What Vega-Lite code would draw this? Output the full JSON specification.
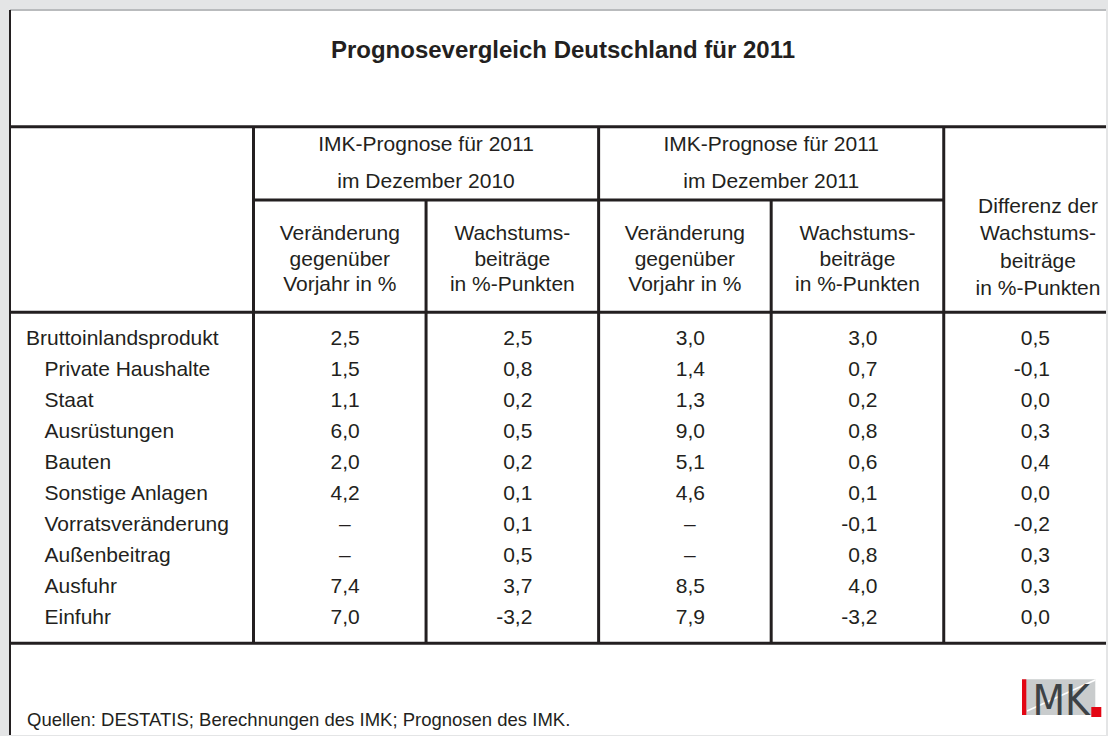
{
  "$schema": "https://vega.github.io/schema/vega-lite/v6.json",
  "width": 1108,
  "height": 736,
  "autosize": {"type": "fit", "contains": "padding"},
  "padding": {"left": 8, "top": 9, "right": 0, "bottom": 0},
  "background": "#e4e5e6",
  "config": {
    "view": {"fill": "#ffffff", "stroke": null},
    "text": {"font": "Liberation Sans", "fill": "#231f20", "fontSize": 21},
    "rule": {"stroke": "#231f20", "strokeWidth": 3},
    "locale": {"number": {"decimal": ",", "thousands": ".", "grouping": [3], "currency": ["", " €"], "minus": "-"}}
  },
  "datasets": {
    "table": [
      {"item": "Bruttoinlandsprodukt", "level": 0, "v2010": 2.5, "w2010": 2.5, "v2011": 3.0, "w2011": 3.0, "diff": 0.5},
      {"item": "Private Haushalte", "level": 1, "v2010": 1.5, "w2010": 0.8, "v2011": 1.4, "w2011": 0.7, "diff": -0.1},
      {"item": "Staat", "level": 1, "v2010": 1.1, "w2010": 0.2, "v2011": 1.3, "w2011": 0.2, "diff": 0.0},
      {"item": "Ausrüstungen", "level": 1, "v2010": 6.0, "w2010": 0.5, "v2011": 9.0, "w2011": 0.8, "diff": 0.3},
      {"item": "Bauten", "level": 1, "v2010": 2.0, "w2010": 0.2, "v2011": 5.1, "w2011": 0.6, "diff": 0.4},
      {"item": "Sonstige Anlagen", "level": 1, "v2010": 4.2, "w2010": 0.1, "v2011": 4.6, "w2011": 0.1, "diff": 0.0},
      {"item": "Vorratsveränderung", "level": 1, "v2010": null, "w2010": 0.1, "v2011": null, "w2011": -0.1, "diff": -0.2},
      {"item": "Außenbeitrag", "level": 1, "v2010": null, "w2010": 0.5, "v2011": null, "w2011": 0.8, "diff": 0.3},
      {"item": "Ausfuhr", "level": 1, "v2010": 7.4, "w2010": 3.7, "v2011": 8.5, "w2011": 4.0, "diff": 0.3},
      {"item": "Einfuhr", "level": 1, "v2010": 7.0, "w2010": -3.2, "v2011": 7.9, "w2011": -3.2, "diff": 0.0}
    ],
    "subheaders": [
      {"col": "v2010", "label": "Veränderung\ngegenüber\nVorjahr in %"},
      {"col": "w2010", "label": "Wachstums-\nbeiträge\nin %-Punkten"},
      {"col": "v2011", "label": "Veränderung\ngegenüber\nVorjahr in %"},
      {"col": "w2011", "label": "Wachstums-\nbeiträge\nin %-Punkten"}
    ],
    "topheaders": [
      {"col": "w2010", "label": "IMK-Prognose für 2011\nim Dezember 2010"},
      {"col": "w2011", "label": "IMK-Prognose für 2011\nim Dezember 2011"}
    ],
    "diffheader": [
      {"col": "diff", "label": "Differenz der\nWachstums-\nbeiträge\nin %-Punkten"}
    ],
    "fullcols": [{"col": "v2010"}, {"col": "v2011"}, {"col": "diff"}],
    "subcols": [{"col": "w2010"}, {"col": "w2011"}]
  },
  "resolve": {"scale": {"x": "independent"}},
  "layer": [
    {
      "data": {"values": [{}]},
      "mark": {"type": "rule", "stroke": "#b9bbbd", "strokeWidth": 2},
      "encoding": {"x": {"value": 0}, "x2": {"value": "width"}, "y": {"value": 0}}
    },
    {
      "data": {"values": [{}]},
      "mark": {"type": "rule", "strokeWidth": 2},
      "encoding": {"x": {"value": 0}, "y": {"value": 0}, "y2": {"value": "height"}}
    },
    {
      "data": {"values": [{}]},
      "mark": {"type": "rule"},
      "encoding": {"x": {"value": 0}, "x2": {"value": "width"}, "y": {"value": 116.7}}
    },
    {
      "data": {"values": [{}]},
      "mark": {"type": "rule"},
      "encoding": {"x": {"value": 243.5}, "x2": {"value": 933.7}, "y": {"value": 190}}
    },
    {
      "data": {"values": [{}]},
      "mark": {"type": "rule"},
      "encoding": {"x": {"value": 0}, "x2": {"value": "width"}, "y": {"value": 302.3}}
    },
    {
      "data": {"values": [{}]},
      "mark": {"type": "rule"},
      "encoding": {"x": {"value": 0}, "x2": {"value": "width"}, "y": {"value": 633.3}}
    },
    {
      "data": {"name": "fullcols"},
      "mark": {"type": "rule"},
      "encoding": {
        "x": {"field": "col", "type": "nominal", "bandPosition": 0, "axis": null,
              "scale": {"type": "band", "domain": ["v2010", "w2010", "v2011", "w2011", "diff"], "range": [243.5, 1106.3], "paddingInner": 0, "paddingOuter": 0}},
        "y": {"value": 116.7},
        "y2": {"value": 633.3}
      }
    },
    {
      "data": {"name": "subcols"},
      "mark": {"type": "rule"},
      "encoding": {
        "x": {"field": "col", "type": "nominal", "bandPosition": 0, "axis": null,
              "scale": {"type": "band", "domain": ["v2010", "w2010", "v2011", "w2011", "diff"], "range": [243.5, 1106.3], "paddingInner": 0, "paddingOuter": 0}},
        "y": {"value": 190},
        "y2": {"value": 633.3}
      }
    },
    {
      "data": {"values": [{}]},
      "mark": {"type": "text", "fontSize": 24, "fontWeight": "bold", "align": "center", "baseline": "alphabetic"},
      "encoding": {"x": {"value": 553}, "y": {"value": 47.7}, "text": {"value": "Prognosevergleich Deutschland für 2011"}}
    },
    {
      "data": {"name": "topheaders"},
      "mark": {"type": "text", "align": "center", "baseline": "alphabetic", "lineBreak": "\n", "lineHeight": 37.3},
      "encoding": {
        "x": {"field": "col", "type": "nominal", "bandPosition": 0, "axis": null,
              "scale": {"type": "band", "domain": ["v2010", "w2010", "v2011", "w2011", "diff"], "range": [243.5, 1106.3], "paddingInner": 0, "paddingOuter": 0}},
        "y": {"value": 141},
        "text": {"field": "label", "type": "nominal"}
      }
    },
    {
      "data": {"name": "subheaders"},
      "mark": {"type": "text", "align": "center", "baseline": "alphabetic", "lineBreak": "\n", "lineHeight": 25.5},
      "encoding": {
        "x": {"field": "col", "type": "nominal", "axis": null,
              "scale": {"type": "band", "domain": ["v2010", "w2010", "v2011", "w2011", "diff"], "range": [243.5, 1106.3], "paddingInner": 0, "paddingOuter": 0}},
        "y": {"value": 230},
        "text": {"field": "label", "type": "nominal"}
      }
    },
    {
      "data": {"name": "diffheader"},
      "mark": {"type": "text", "align": "center", "baseline": "alphabetic", "lineBreak": "\n", "lineHeight": 27.3, "dx": 8},
      "encoding": {
        "x": {"field": "col", "type": "nominal", "axis": null,
              "scale": {"type": "band", "domain": ["v2010", "w2010", "v2011", "w2011", "diff"], "range": [243.5, 1106.3], "paddingInner": 0, "paddingOuter": 0}},
        "y": {"value": 203},
        "text": {"field": "label", "type": "nominal"}
      }
    },
    {
      "data": {"name": "table"},
      "mark": {"type": "text", "align": "left", "baseline": "middle", "dy": 1},
      "encoding": {
        "x": {"field": "level", "type": "quantitative", "axis": null, "scale": {"domain": [0, 1], "range": [16, 34.5]}},
        "y": {"field": "item", "type": "nominal", "axis": null,
              "scale": {"type": "band", "domain": ["Bruttoinlandsprodukt", "Private Haushalte", "Staat", "Ausrüstungen", "Bauten", "Sonstige Anlagen", "Vorratsveränderung", "Außenbeitrag", "Ausfuhr", "Einfuhr"], "range": [302.3, 633.3], "paddingInner": 0, "paddingOuter": 0.34}},
        "text": {"field": "item", "type": "nominal"}
      }
    },
    {
      "data": {"name": "table"},
      "transform": [
        {"fold": ["v2010", "w2010", "v2011", "w2011", "diff"], "as": ["col", "value"]},
        {"filter": "isValid(datum.value)"}
      ],
      "mark": {"type": "text", "align": "right", "baseline": "middle", "dx": 20, "dy": 1},
      "encoding": {
        "x": {"field": "col", "type": "nominal", "axis": null,
              "scale": {"type": "band", "domain": ["v2010", "w2010", "v2011", "w2011", "diff"], "range": [243.5, 1106.3], "paddingInner": 0, "paddingOuter": 0}},
        "y": {"field": "item", "type": "nominal", "axis": null,
              "scale": {"type": "band", "domain": ["Bruttoinlandsprodukt", "Private Haushalte", "Staat", "Ausrüstungen", "Bauten", "Sonstige Anlagen", "Vorratsveränderung", "Außenbeitrag", "Ausfuhr", "Einfuhr"], "range": [302.3, 633.3], "paddingInner": 0, "paddingOuter": 0.34}},
        "text": {"field": "value", "type": "quantitative", "format": ".1f"}
      }
    },
    {
      "data": {"name": "table"},
      "transform": [
        {"fold": ["v2010", "w2010", "v2011", "w2011", "diff"], "as": ["col", "value"]},
        {"filter": "!isValid(datum.value)"}
      ],
      "mark": {"type": "text", "align": "center", "baseline": "middle", "dx": 5, "dy": 1},
      "encoding": {
        "x": {"field": "col", "type": "nominal", "axis": null,
              "scale": {"type": "band", "domain": ["v2010", "w2010", "v2011", "w2011", "diff"], "range": [243.5, 1106.3], "paddingInner": 0, "paddingOuter": 0}},
        "y": {"field": "item", "type": "nominal", "axis": null,
              "scale": {"type": "band", "domain": ["Bruttoinlandsprodukt", "Private Haushalte", "Staat", "Ausrüstungen", "Bauten", "Sonstige Anlagen", "Vorratsveränderung", "Außenbeitrag", "Ausfuhr", "Einfuhr"], "range": [302.3, 633.3], "paddingInner": 0, "paddingOuter": 0.34}},
        "text": {"value": "–"}
      }
    },
    {
      "data": {"values": [{}]},
      "mark": {"type": "text", "fontSize": 18.5, "align": "left", "baseline": "alphabetic"},
      "encoding": {"x": {"value": 17}, "y": {"value": 716}, "text": {"value": "Quellen: DESTATIS; Berechnungen des IMK; Prognosen des IMK."}}
    },
    {
      "data": {"values": [{}]},
      "mark": {"type": "rect", "fill": "#c9cccd"},
      "encoding": {"x": {"value": 1012}, "x2": {"value": 1085.3}, "y": {"value": 669.3}, "y2": {"value": 705}}
    },
    {
      "data": {"values": [{}]},
      "mark": {"type": "rule", "stroke": "#ffffff", "strokeWidth": 1.5},
      "encoding": {"x": {"value": 1017}, "y": {"value": 701}, "x2": {"value": 1085.3}, "y2": {"value": 670}}
    },
    {
      "data": {"values": [{}]},
      "mark": {"type": "rect", "fill": "#e30613"},
      "encoding": {"x": {"value": 1012}, "x2": {"value": 1016.3}, "y": {"value": 669.3}, "y2": {"value": 705}}
    },
    {
      "data": {"values": [{}]},
      "mark": {"type": "text", "font": "Liberation Sans Narrow, DejaVu Sans Condensed, Liberation Sans", "fontSize": 42, "letterSpacing": -2, "fill": "#3d4246", "align": "left", "baseline": "alphabetic"},
      "encoding": {"x": {"value": 1022.5}, "y": {"value": 705}, "text": {"value": "MK"}}
    },
    {
      "data": {"values": [{}]},
      "mark": {"type": "rect", "fill": "#e30613"},
      "encoding": {"x": {"value": 1081.3}, "x2": {"value": 1091.3}, "y": {"value": 697}, "y2": {"value": 707}}
    }
  ]
}
